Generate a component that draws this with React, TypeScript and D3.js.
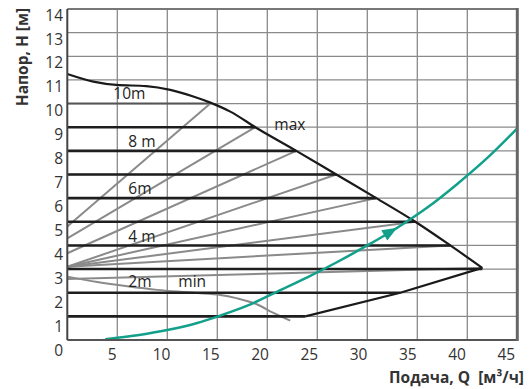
import React from "react";
import * as d3 from "d3";

// ---- data ----
const xTicks = [5, 10, 15, 20, 25, 30, 35, 40, 45];
const yTicks = [0, 1, 2, 3, 4, 5, 6, 7, 8, 9, 10, 11, 12, 13, 14];
const gridX = [5, 10, 15, 20, 25, 30, 35, 40];
const gridY = [1, 2, 3, 4, 5, 6, 7, 8, 9, 10, 11, 12, 13];

// max / 10m curve
const maxQ = [0, 2.6, 4.9, 7.9, 10.3, 12.6, 14.3, 16.3, 18.8, 22.9, 26.9, 30.9, 34.8, 38.3, 41.5];
const maxH = [11.25, 10.93, 10.79, 10.74, 10.58, 10.3, 10.04, 9.66, 9.0, 8.0, 7.0, 6.0, 5.0, 4.0, 3.05];

// lower boundary
const lowQ = [23.8, 33.3, 41.5];
const lowH = [1.0, 2.0, 3.05];

// constant pressure lines (dp-c)
const constLevels = [9, 8, 7, 6, 5, 4, 3, 2, 1];
const constEndQ = [18.8, 22.9, 26.9, 30.9, 34.8, 38.3, 41.5, 33.3, 23.8];
const tenLevel = 10;
const tenEndQ = 14.3;

// variable pressure lines (dp-v)
const dpvSetH = [10, 9, 8, 7, 6, 5, 4, 3.05];
const dpvStartH = [4.8, 4.3, 3.67, 3.1, 3.1, 3.1, 3.1, 2.58];
const dpvEndQ = [14.3, 18.8, 22.9, 26.9, 30.9, 34.8, 38.3, 41.5];

// min curve
const minQ = [0, 3, 6, 9, 12, 15, 17, 19, 20.5, 22.3];
const minH = [2.68, 2.45, 2.27, 2.12, 2.02, 1.92, 1.76, 1.5, 1.17, 0.82];

// system curve
const sysQ = [3.8, 7, 10, 13, 15, 18, 21, 24, 27, 30, 33, 36, 39, 42, 45];
const sysH = [0.03, 0.2, 0.42, 0.72, 0.99, 1.45, 2.05, 2.65, 3.3, 4.0, 4.75, 5.6, 6.6, 7.7, 8.95];
const arrowQ = 32.3;

// in-plot labels
const labelTexts = ["10m", "8 m", "6m", "4 m", "2m", "min", "max"];
const labelQ = [4.6, 6.1, 6.1, 6.1, 6.1, 11.1, 20.7];
const labelH = [10.18, 8.15, 6.18, 4.14, 2.25, 2.25, 8.9];

const yTitle = "Напор, H [м]";
const xTitle = "Подача, Q  [м³/ч]";

export default function App() {
  const W = 530, Hh = 389;
  const x = d3.scaleLinear().domain([0, 45]).range([67.3, 517.3]);
  const y = d3.scaleLinear().domain([0, 14]).range([340, 9]);
  const xLab = d3.scaleLinear().domain([5, 45]).range([x(5) - 5, x(45) - 11]);
  const yLab = d3.scaleLinear().domain([0, 14]).range([350, 15]);

  const line = d3.line<[number, number]>().x((d) => x(d[0])).y((d) => y(d[1]));
  const smooth = d3.line<[number, number]>().x((d) => x(d[0])).y((d) => y(d[1])).curve(d3.curveMonotoneX);

  const zip = (a: number[], b: number[]) => a.map((v, i) => [v, b[i]] as [number, number]);

  const maxPath = smooth(zip(maxQ, maxH)) || "";
  const lowPath = line(zip(lowQ, lowH)) || "";
  const minPath = smooth(zip(minQ, minH)) || "";
  const sysPath = smooth(zip(sysQ, sysH)) || "";

  // arrow along system curve
  const interp = (q: number) => {
    const i = d3.bisectLeft(sysQ, q);
    const q0 = sysQ[i - 1], q1 = sysQ[i];
    const t = (q - q0) / (q1 - q0);
    return sysH[i - 1] + t * (sysH[i] - sysH[i - 1]);
  };
  const ax = x(arrowQ), ay = y(interp(arrowQ));
  const bx = x(arrowQ + 0.5), by = y(interp(arrowQ + 0.5));
  const ang = (Math.atan2(by - ay, bx - ax) * 180) / Math.PI;

  const font = "'Open Sans', 'Noto Sans', sans-serif";
  const teal = "#13a08b";

  return (
    <svg width={W} height={Hh} style={{ position: "absolute", left: 0, top: 0, background: "#fff" }}>
      <rect x={0} y={0} width={W} height={Hh} fill="#fff" />
      {/* grid */}
      {gridX.map((v) => (
        <line key={"gx" + v} x1={x(v)} x2={x(v)} y1={y(0)} y2={y(14)} stroke="#8a8a8a" strokeWidth={1.3} />
      ))}
      {gridY.map((v) => (
        <line key={"gy" + v} x1={x(0)} x2={x(45)} y1={y(v)} y2={y(v)} stroke="#8a8a8a" strokeWidth={1.3} />
      ))}
      {/* 10 m line */}
      <line x1={x(0)} x2={x(tenEndQ)} y1={y(tenLevel)} y2={y(tenLevel)} stroke="#555" strokeWidth={2} />
      {/* dp-v lines */}
      {dpvSetH.map((h, i) => (
        <line key={"dv" + i} x1={x(0)} y1={y(dpvStartH[i])} x2={x(dpvEndQ[i])} y2={y(h)} stroke="#8a8a8a" strokeWidth={2} />
      ))}
      {/* min curve */}
      <path d={minPath} fill="none" stroke="#8a8a8a" strokeWidth={2} />
      {/* dp-c lines */}
      {constLevels.map((h, i) => (
        <line key={"dc" + i} x1={x(0)} x2={x(constEndQ[i])} y1={y(h)} y2={y(h)} stroke="#1e1e1e" strokeWidth={2.6} />
      ))}
      {/* max curve and lower boundary */}
      <path d={maxPath} fill="none" stroke="#1a1a1a" strokeWidth={2.2} />
      <path d={lowPath} fill="none" stroke="#1a1a1a" strokeWidth={2.2} />
      {/* system curve */}
      <path d={sysPath} fill="none" stroke={teal} strokeWidth={2.5} />
      <g transform={`translate(${ax},${ay}) rotate(${ang})`}>
        <path d="M8,0 L-7,-6 L-7,6 Z" fill={teal} />
      </g>
      {/* frame */}
      <line x1={x(0)} x2={x(45)} y1={y(14)} y2={y(14)} stroke="#777" strokeWidth={2} />
      <line x1={x(0)} x2={x(45)} y1={y(0)} y2={y(0)} stroke="#555" strokeWidth={2} />
      <line x1={x(0)} x2={x(0)} y1={y(0)} y2={y(14)} stroke="#444" strokeWidth={2} />
      <line x1={x(45)} x2={x(45)} y1={y(0) + 1} y2={y(14) - 1} stroke="#666" strokeWidth={3} />
      {/* labels in plot */}
      {labelTexts.map((t, i) => (
        <text key={"lb" + i} x={x(labelQ[i])} y={y(labelH[i])} fontFamily={font} fontSize={15.5} fill="#222">
          {t}
        </text>
      ))}
      {/* tick labels */}
      {xTicks.map((v) => (
        <text key={"xt" + v} x={xLab(v)} y={354} dy="0.36em" textAnchor="middle" fontFamily={font} fontSize={15.5} fill="#333">
          {v}
        </text>
      ))}
      {yTicks.map((v) => (
        <text key={"yt" + v} x={63} y={yLab(v)} dy="0.36em" textAnchor="end" fontFamily={font} fontSize={15.5} fill="#333">
          {v}
        </text>
      ))}
      {/* axis titles */}
      <text transform="translate(28,57) rotate(-90)" textAnchor="middle" fontFamily={font} fontSize={15.5} fontWeight="bold" fill="#333">
        {yTitle}
      </text>
      <text x={524} y={383} textAnchor="end" fontFamily={font} fontSize={15.5} fontWeight="bold" fill="#333" style={{ whiteSpace: "pre" }}>
        {xTitle}
      </text>
    </svg>
  );
}
